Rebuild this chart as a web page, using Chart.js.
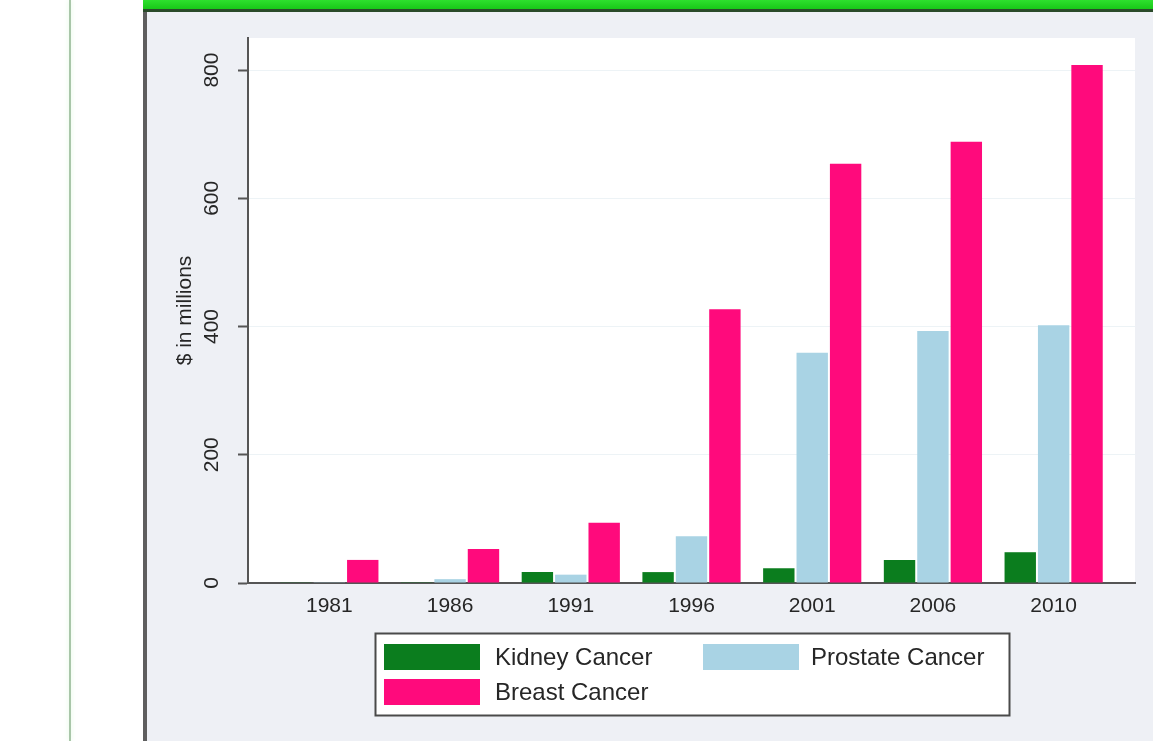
<!DOCTYPE html>
<html>
<head>
<meta charset="utf-8">
<script src="https://cdn.jsdelivr.net/npm/chart.js@4.4.1/dist/chart.umd.min.js"></script>
<style>
  html, body { margin: 0; padding: 0; background: #ffffff; overflow: hidden; }
  .greenline { position: absolute; left: 69px; top: 0; width: 2px; height: 741px; background: #a9c6a9; box-shadow: 0 0 5px #d9f7d9; }
  .frame { position: absolute; left: 143px; top: 0; width: 1020px; height: 760px; background: #eef0f5; border-left: 4px solid #5e5e5e; }
  .topbar { position: absolute; left: 143px; top: 0; width: 1020px; height: 9px; background: linear-gradient(#2ee02e, #18c818); border-bottom: 3px solid #2a4a2a; }
  #wrap { position: absolute; left: 147px; top: 12px; width: 1006px; height: 729px; }
</style>
</head>
<body>
<div class="greenline"></div>
<div class="frame"></div>
<div class="topbar"></div>
<div id="wrap"><canvas id="barChart" width="1006" height="729"></canvas></div>
<script>
    // Chart data
    const years = ['1981', '1986', '1991', '1996', '2001', '2006', '2010'];
    const kidney = [0.5, 1, 17, 17, 23, 36, 48];
    const prostate = [1, 6, 13, 73, 359, 393, 402];
    const breast = [36, 53, 94, 427, 654, 688, 808];
    const yTicks = [0, 200, 400, 600, 800];

    const seriesNames = ['Kidney Cancer', 'Prostate Cancer', 'Breast Cancer'];
    const seriesColors = ['#0b7d1e', '#a9d3e4', '#ff0a7c'];

    const fontFamily = '"Liberation Sans", Arial, sans-serif';
    const textColor = '#262626';
    const EDGE_PAD = 21;

    // Category scale that leaves some room at both ends of the axis, like Stata does
    const CategoryBase = Chart.CategoryScale || Chart.registry.getScale('category');
    class PaddedCategoryScale extends CategoryBase {
        configure() {
            super.configure();
            this._startPixel += EDGE_PAD;
            this._endPixel -= EDGE_PAD;
            this._length = this._endPixel - this._startPixel;
        }
    }
    PaddedCategoryScale.id = 'paddedCategory';
    PaddedCategoryScale.defaults = CategoryBase.defaults;
    Chart.register(PaddedCategoryScale);

    // White plot region
    const plotBackground = {
        id: 'plotBackground',
        beforeDraw(chart) {
            const { ctx, chartArea } = chart;
            ctx.save();
            ctx.fillStyle = '#ffffff';
            ctx.fillRect(chartArea.left, chartArea.top, chartArea.right - chartArea.left, chartArea.bottom - chartArea.top);
            ctx.restore();
        }
    };

    // Boxed legend under the plot, two columns
    const boxedLegend = {
        id: 'boxedLegend',
        afterDraw(chart) {
            const { ctx, chartArea } = chart;
            const width = 634, height = 82;
            const left = Math.round((chartArea.left + chartArea.right) / 2 - width / 2);
            const top = chartArea.bottom + 50;
            ctx.save();
            ctx.fillStyle = '#ffffff';
            ctx.fillRect(left, top, width, height);
            ctx.strokeStyle = '#4a4a4a';
            ctx.lineWidth = 2;
            ctx.strokeRect(left + 0.5, top + 0.5, width, height);

            const slots = [[9, 24], [328, 24], [9, 59]];
            ctx.font = '24px ' + fontFamily;
            ctx.textBaseline = 'middle';
            chart.data.datasets.forEach((ds, i) => {
                const [dx, cy] = slots[i];
                ctx.fillStyle = ds.backgroundColor;
                ctx.fillRect(left + dx, top + cy - 13, 96, 26);
                ctx.fillStyle = textColor;
                ctx.fillText(ds.label, left + dx + (i === 1 ? 108 : 111), top + cy + 1);
            });
            ctx.restore();
        }
    };

    const ctx = document.getElementById('barChart').getContext('2d');
    const barChart = new Chart(ctx, {
        type: 'bar',
        data: {
            labels: years,
            datasets: [
                { label: seriesNames[0], data: kidney, backgroundColor: seriesColors[0] },
                { label: seriesNames[1], data: prostate, backgroundColor: seriesColors[1] },
                { label: seriesNames[2], data: breast, backgroundColor: seriesColors[2] }
            ]
        },
        options: {
            responsive: false,
            animation: false,
            devicePixelRatio: 1,
            layout: { padding: { top: 26, right: 18, left: 0, bottom: 0 } },
            datasets: { bar: { categoryPercentage: 0.83, barPercentage: 0.94 } },
            plugins: {
                legend: { display: false },
                tooltip: { enabled: false }
            },
            scales: {
                x: {
                    type: 'paddedCategory',
                    offset: true,
                    grid: { display: false, drawTicks: false },
                    border: { color: '#555555', width: 2 },
                    ticks: { color: textColor, padding: 11, font: { family: fontFamily, size: 21 } },
                    afterFit(scale) { scale.height = 158; }
                },
                y: {
                    min: 0,
                    max: 850,
                    afterBuildTicks(scale) { scale.ticks = yTicks.map(v => ({ value: v })); },
                    grid: { color: 'rgba(225,235,240,0.6)', tickColor: '#555555', tickWidth: 2, tickLength: 10 },
                    border: { color: '#555555', width: 2 },
                    ticks: {
                        color: textColor,
                        minRotation: 90,
                        maxRotation: 90,
                        crossAlign: 'center',
                        padding: 8,
                        font: { family: fontFamily, size: 21 }
                    },
                    title: {
                        display: true,
                        text: '$ in millions',
                        color: textColor,
                        font: { family: fontFamily, size: 21 },
                        padding: { top: 26, bottom: 0 }
                    },
                    afterFit(scale) { scale.width = 101; }
                }
            }
        },
        plugins: [plotBackground, boxedLegend]
    });
</script>
</body>
</html>
